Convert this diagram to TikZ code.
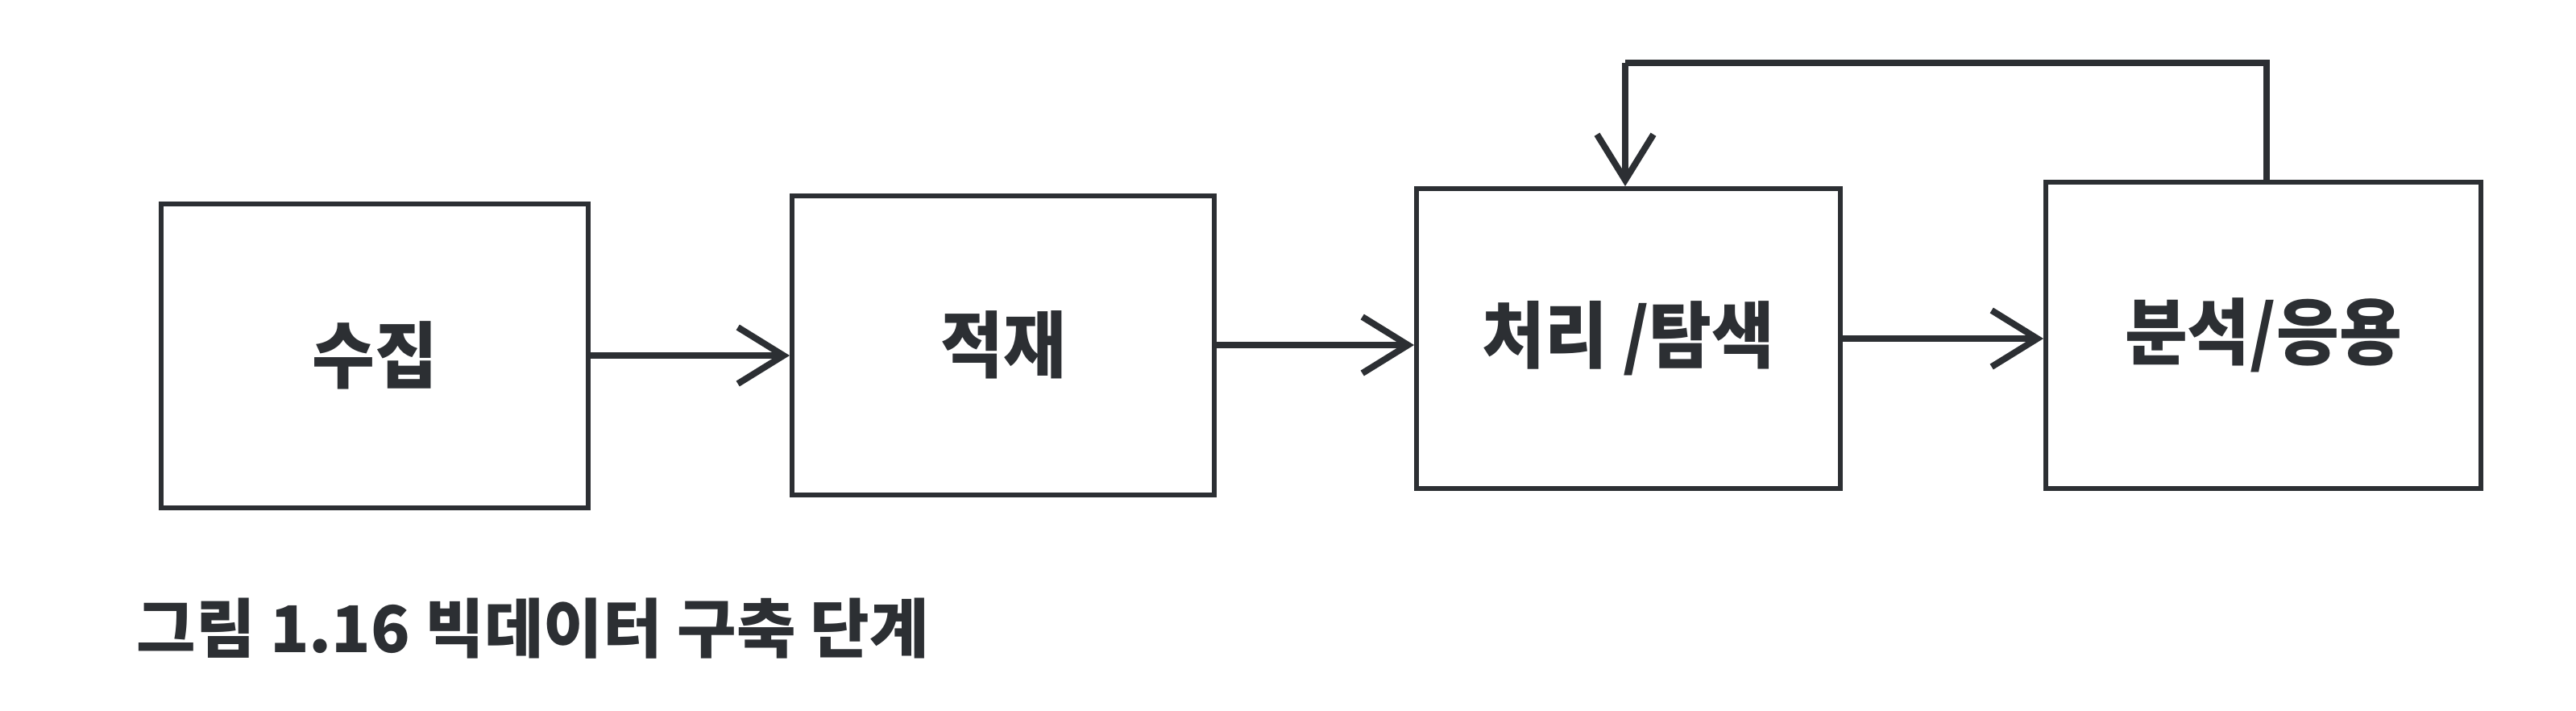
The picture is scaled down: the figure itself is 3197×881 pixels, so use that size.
\documentclass[tikz,border=0pt]{standalone}
\usepackage{fontspec}
\newfontfamily\kr{Noto Sans CJK KR}
\usetikzlibrary{arrows.meta}
\definecolor{ink}{HTML}{2C2F33}
\newcommand{\narrowtxt}[1]{\scalebox{0.94}[1]{#1}}
\tikzset{
  stage/.style={draw=ink, line width=1.8pt, rectangle, inner sep=0pt, text=ink,
    font=\kr\bfseries\fontsize{27pt}{31pt}\selectfont},
  arr/.style={draw=ink, line width=2.6pt, -{Straight Barb[length=17pt,width=21pt,line width=2.4pt]}},
  fbline/.style={draw=ink, line width=2.6pt},
  captext/.style={text=ink, inner sep=0pt, font=\kr\bfseries\fontsize{24pt}{28pt}\selectfont}
}
\begin{document}
\begin{tikzpicture}[x=0.3pt,y=-0.3pt]
\useasboundingbox[fill=white] (0,0) rectangle (3197,881);
\node[stage, minimum width=159pt, minimum height=113.1pt] (b1) at (465,441) {\narrowtxt{수집}};
\node[stage, minimum width=157.2pt, minimum height=111.3pt] (b2) at (1245,428) {\narrowtxt{적재}};
\node[stage, minimum width=157.8pt, minimum height=111.6pt] (b3) at (2021,420) {\narrowtxt{처리 /탐색}};
\node[stage, minimum width=162pt, minimum height=114pt] (b4) at (2809,416) {\narrowtxt{분석/응용}};
\draw[arr] (b1.east) -- (b1.east -| b2.west);
\draw[arr] (b2.east) -- (b2.east -| b3.west);
\draw[arr] (b3.east) -- (b3.east -| b4.west);
\coordinate (fbR) at (2813,78);
\coordinate (fbL) at (2017,78);
\draw[fbline] (fbR |- b4.north) -- (fbR) -- (fbL);
\draw[arr] (fbL) -- (fbL |- b3.north);
\node[captext, anchor=west] (caption) at (169,780) {그림 1.16 빅데이터 구축 단계};
\end{tikzpicture}
\end{document}
